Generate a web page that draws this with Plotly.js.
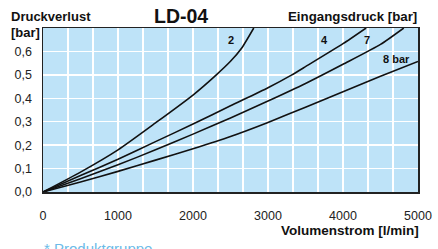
<!DOCTYPE html>
<html>
<head>
<meta charset="utf-8">
<script src="https://cdn.plot.ly/plotly-3.0.1.min.js"></script>
<style>html,body{margin:0;padding:0;background:#fff;}#chart{width:438px;height:249px;}</style>
</head>
<body>
<div id="chart"></div>
<script>
// Volumenstrom [l/min] and Druckverlust [bar] per Eingangsdruck curve
const flow2 = [0, 500, 1000, 1500, 2000, 2300, 2500, 2650, 2810];
const loss2 = [0, 0.085, 0.18, 0.295, 0.414, 0.497, 0.558, 0.615, 0.70];
const flow4 = [0, 500, 1000, 1500, 2000, 2500, 3000, 3318, 3500, 4000, 4308];
const loss4 = [0, 0.07, 0.14, 0.215, 0.29, 0.368, 0.445, 0.5, 0.535, 0.633, 0.70];
const flow7 = [0, 500, 1000, 1500, 2000, 2500, 3000, 3500, 4000, 4500, 4810];
const loss7 = [0, 0.057, 0.116, 0.18, 0.247, 0.316, 0.388, 0.463, 0.545, 0.63, 0.70];
const flow8 = [0, 500, 1000, 1500, 2000, 2500, 3000, 3500, 4000, 4500, 5000];
const loss8 = [0, 0.043, 0.088, 0.136, 0.185, 0.237, 0.297, 0.362, 0.428, 0.494, 0.557];

const curveLabels = ["2", "4", "7", "8 bar"];
const labelX = [2510, 3748, 4317, 4716];
const labelY = [0.65, 0.65, 0.65, 0.567];

const xTickVals = [0, 1000, 2000, 3000, 4000, 5000];
const xTickText = ["0", "1000", "2000", "3000", "4000", "5000"];
const yTickVals = [0, 0.1, 0.2, 0.3, 0.4, 0.5, 0.6];
const yTickText = ["0,0", "0,1", "0,2", "0,3", "0,4", "0,5", "0,6"];

const FONT = "Liberation Sans, Arial, Helvetica, sans-serif";
const lineStyle = {color: "#111", width: 1.6, shape: "spline", smoothing: 0.6};
const series = [[flow2, loss2], [flow4, loss4], [flow7, loss7], [flow8, loss8]];
const traces = series.map(s => ({
  x: s[0], y: s[1], type: "scatter", mode: "lines", line: lineStyle,
  hoverinfo: "skip", showlegend: false, cliponaxis: true
}));

const annotations = curveLabels.map((t, i) => ({
  text: t, x: labelX[i], y: labelY[i], xref: "x", yref: "y",
  showarrow: false, font: {family: FONT, size: 11, color: "#111", weight: "bold"}
}));

const boldText = (t, x, y, xa, size, color) => ({
  text: t, x: x, y: y, xref: "paper", yref: "paper", xanchor: xa, yanchor: "middle",
  showarrow: false, font: {family: FONT, size: size, color: color || "#111", weight: "bold"}
});
annotations.push(boldText("Druckverlust", -0.092, 1.069, "left", 13));
annotations.push(boldText("[bar]", -0.092, 0.971, "left", 13));
annotations.push(boldText("Eingangsdruck [bar]", 1.003, 1.069, "right", 13.3));
annotations.push(boldText("Volumenstrom [l/min]", 1.009, -0.234, "right", 13.5));
annotations.push(boldText("LD-04", 0.369, 1.075, "center", 19.5));
annotations.push({
  text: "* Produktgruppe", x: -0.002, y: -0.345, xref: "paper", yref: "paper",
  xanchor: "left", yanchor: "middle", showarrow: false,
  font: {family: FONT, size: 15, color: "#6cbbe8"}
});

const layout = {
  width: 438, height: 249,
  margin: {l: 42.5, r: 20, t: 28.3, b: 57.3, pad: 0},
  paper_bgcolor: "#ffffff",
  plot_bgcolor: "#bee3f8",
  font: {family: FONT, size: 12.5, color: "#222"},
  xaxis: {
    range: [0, 5000], tickvals: xTickVals, ticktext: xTickText,
    showgrid: true, gridcolor: "#ffffff", gridwidth: 1.5,
    minor: {dtick: 1000 / 3, tick0: 0, showgrid: true, gridcolor: "#ffffff", gridwidth: 1.5, ticks: ""},
    showline: true, linecolor: "#222", linewidth: 1.5, mirror: true,
    ticks: "outside", ticklen: 11, tickcolor: "rgba(0,0,0,0)",
    zeroline: false, fixedrange: true
  },
  yaxis: {
    range: [0, 0.7], tickvals: yTickVals, ticktext: yTickText,
    showgrid: true, gridcolor: "#ffffff", gridwidth: 1.5,
    showline: true, linecolor: "#222", linewidth: 1.5, mirror: true,
    ticks: "outside", ticklen: 7, tickcolor: "rgba(0,0,0,0)",
    zeroline: false, fixedrange: true
  },
  annotations: annotations
};

Plotly.newPlot("chart", traces, layout, {staticPlot: true, displayModeBar: false});
</script>
</body>
</html>
